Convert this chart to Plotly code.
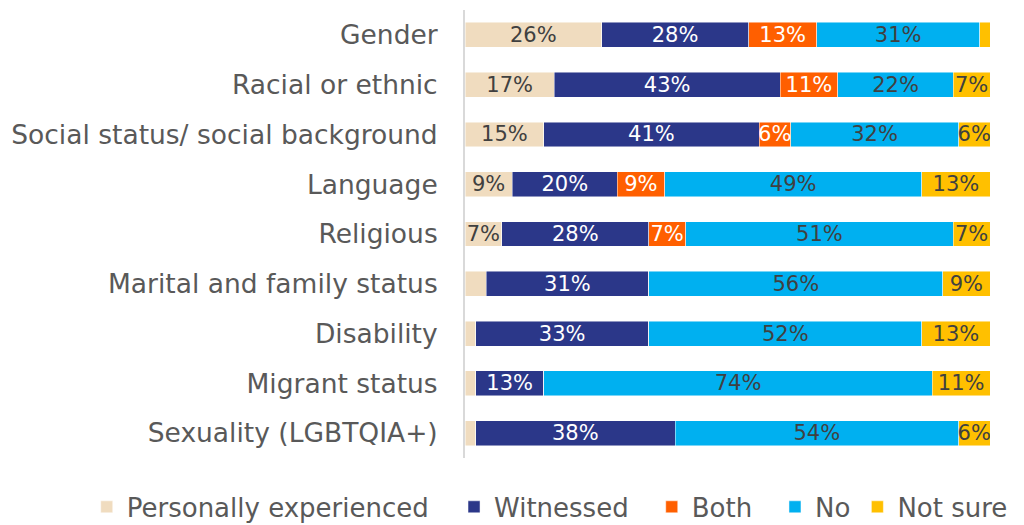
import plotly.graph_objects as go

categories = ["Gender", "Racial or ethnic", "Social status/ social background", "Language",
              "Religious", "Marital and family status", "Disability", "Migrant status",
              "Sexuality (LGBTQIA+)"]
personally = [26, 17, 15, 9, 7, 4, 2, 2, 2]
witnessed = [28, 43, 41, 20, 28, 31, 33, 13, 38]
both = [13, 11, 6, 9, 7, 0, 0, 0, 0]
no = [31, 22, 32, 49, 51, 56, 52, 74, 54]
not_sure = [2, 7, 6, 13, 7, 9, 13, 11, 6]

series = [
    ("Personally experienced", personally, "#F0DCBF", "#404040"),
    ("Witnessed", witnessed, "#2B3789", "#FFFFFF"),
    ("Both", both, "#FF5F00", "#FFFFFF"),
    ("No", no, "#00B0F0", "#404040"),
    ("Not sure", not_sure, "#FFC000", "#404040"),
]
legend_ids = ["legend", "legend2", "legend3", "legend4", "legend5"]
legend_x = [0.0775, 0.439, 0.6336, 0.7549, 0.836]

FONT = "DejaVu Sans"
fig = go.Figure()
for (name, vals, color, tcolor), lid in zip(series, legend_ids):
    fig.add_trace(go.Bar(
        name=name, y=categories, x=vals, orientation="h",
        marker=dict(color=color, line=dict(color="rgba(255,255,255,0.6)", width=0.8)),
        text=[f"{v}%" if v >= 5 else "" for v in vals],
        textposition="inside", insidetextanchor="middle", textangle=0,
        constraintext="none",
        textfont=dict(family=FONT, size=21, color=tcolor),
        hoverinfo="skip", legend=lid,
    ))

legend_layout = {}
for lid, lx in zip(legend_ids, legend_x):
    legend_layout[lid] = dict(
        orientation="h", xref="container", yref="container", x=lx, xanchor="left",
        y=0.035, yanchor="middle", font=dict(family=FONT, size=26, color="#595959"),
        itemwidth=30, bgcolor="rgba(0,0,0,0)")

fig.update_layout(
    barmode="stack", bargap=0.5,
    width=1016, height=517,
    margin=dict(l=457, r=34, t=2, b=67, autoexpand=False),
    paper_bgcolor="white", plot_bgcolor="white",
    font=dict(family=FONT, color="#595959"),
    xaxis=dict(range=[0, 100], visible=False, fixedrange=True),
    yaxis=dict(autorange="reversed", showline=True, linecolor="#D9D9D9", linewidth=2,
               ticks="", showgrid=False, tickfont=dict(family=FONT, size=26.5, color="#595959"),
               ticklabelstandoff=20),
    showlegend=True,
    **legend_layout,
)
fig.write_html("out.html")
